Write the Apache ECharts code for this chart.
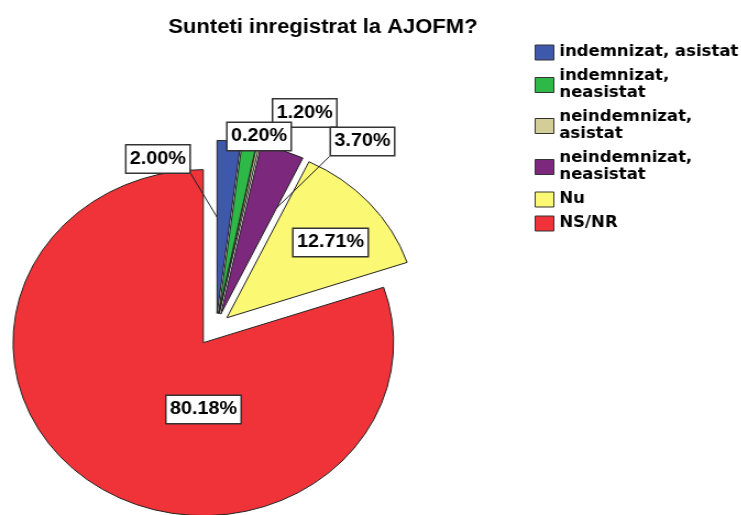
<!DOCTYPE html>
<html>
<head>
<meta charset="utf-8">
<script src="https://cdn.jsdelivr.net/npm/echarts@6/dist/echarts.min.js"></script>
<style>
html, body { margin: 0; padding: 0; background: #fff; overflow: hidden; }
/* the original picture is stretched sideways, so the whole chart is too */
#main { width: 674px; height: 515px; transform: scaleX(1.1); transform-origin: 0 0; }
</style>
</head>
<body>
<div id="main"></div>
<script>
var categories = ['indemnizat, asistat', 'indemnizat, neasistat', 'neindemnizat, asistat',
                  'neindemnizat, neasistat', 'Nu', 'NS/NR'];
var percents = [2.00, 1.20, 0.20, 3.70, 12.71, 80.18];
var colors = ['#3E58AC', '#2EB848', '#D3CE97', '#7C287D', '#FBF873', '#EF3338'];

// how far each slice is pulled out of the pie
var explode = [13, 13, 13, 13, 13, 20];
// centre of each percentage box
var labelPos = [[143.6, 159], [277, 113], [235.5, 136.5], [329.5, 141.5], [300.5, 242.5], [185, 409.5]];

var pieCenter = [196.5, 326.4];
var pieRadius = 173;
var nOutside = 4;   // the first four slices get their box outside, with a leader line

var total = percents.reduce(function (a, b) { return a + b; }, 0);

// where every slice ends up (same maths the pie uses: start at 12 o'clock, clockwise)
var slices = [];
(function () {
    var before = 0;
    for (var k = 0; k < percents.length; k++) {
        var a0 = before / total * 2 * Math.PI;
        var a1 = (before + percents[k]) / total * 2 * Math.PI;
        var mid = (a0 + a1) / 2;
        slices.push({
            a0: a0, a1: a1, mid: mid,
            cx: pieCenter[0] + explode[k] * Math.sin(mid),
            cy: pieCenter[1] - explode[k] * Math.cos(mid)
        });
        before += percents[k];
    }
})();

function insideSmallSlice(x, y) {
    for (var k = 0; k < nOutside; k++) {
        var s = slices[k];
        var dx = x - s.cx, dy = y - s.cy;
        if (dx * dx + dy * dy > pieRadius * pieRadius) continue;
        var ang = Math.atan2(dx, -dy);
        if (ang < 0) ang += 2 * Math.PI;
        if (ang >= s.a0 && ang <= s.a1) return true;
    }
    return false;
}

// leader line: from the nearest box corner towards the middle of the slice,
// stopping where it reaches the small slices
function leader(k, w, h) {
    var s = slices[k], p = labelPos[k];
    var ax = s.cx + pieRadius / 2 * Math.sin(s.mid);
    var ay = s.cy - pieRadius / 2 * Math.cos(s.mid);
    var bx = p[0], by = p[1], best = Infinity;
    [-1, 1].forEach(function (sx) {
        [-1, 1].forEach(function (sy) {
            var x = p[0] + sx * w / 2, y = p[1] + sy * h / 2;
            var d = (x - ax) * (x - ax) + (y - ay) * (y - ay);
            if (d < best) { best = d; bx = x; by = y; }
        });
    });
    var t1 = 1;
    for (var t = 0; t <= 1; t += 0.004) {
        if (insideSmallSlice(bx + (ax - bx) * t, by + (ay - by) * t)) { t1 = t; break; }
    }
    var p1 = [bx + (ax - bx) * t1, by + (ay - by) * t1];
    return [[bx, by], [bx, by], p1];
}

function buildData(k) {
    return percents.map(function (v, i) {
        if (i !== k) {
            return {
                name: categories[i], value: v,
                itemStyle: { color: 'rgba(0,0,0,0)', borderWidth: 0 },
                label: { show: false }, labelLine: { show: false }
            };
        }
        return {
            name: categories[i], value: v,
            itemStyle: { color: colors[i] },
            labelLine: { show: i < nOutside }
        };
    });
}

// one pie per slice, each moved out along the middle of its own slice
function pieSeries(k) {
    return {
        type: 'pie',
        z: k < nOutside ? 3 : 2,
        center: [slices[k].cx, slices[k].cy],
        radius: pieRadius,
        startAngle: 90,
        clockwise: true,
        silent: true,
        avoidLabelOverlap: false,
        itemStyle: { borderColor: '#222', borderWidth: 1 },
        label: {
            show: true,
            position: k < nOutside ? 'outside' : 'inside',
            formatter: function (p) { return p.value.toFixed(2) + '%'; },
            backgroundColor: '#fff',
            borderColor: '#333',
            borderWidth: 1.5,
            padding: [4, 3, 3, 3],
            lineHeight: 20,
            fontFamily: 'Liberation Sans',
            fontWeight: 'bold',
            fontSize: 18,
            color: '#000'
        },
        labelLine: { length: 5, length2: 0, lineStyle: { color: '#222', width: 1 } },
        labelLayout: function (params) {
            var i = params.dataIndex;
            var p = labelPos[i];
            var out = { x: p[0], y: p[1], align: 'center', verticalAlign: 'middle' };
            if (i < nOutside) {
                out.labelLinePoints = leader(i, params.labelRect.width, params.labelRect.height);
            }
            return out;
        },
        data: buildData(k)
    };
}

var chart = echarts.init(document.getElementById('main'));
chart.setOption({
    animation: false,
    title: {
        text: 'Sunteti inregistrat la AJOFM?',
        left: 148,
        top: 12,
        textStyle: { fontFamily: 'Liberation Sans', fontWeight: 'bold', fontSize: 20, color: '#000' }
    },
    legend: {
        orient: 'vertical',
        left: 481,
        top: 39,
        icon: 'rect',
        itemWidth: 17,
        itemHeight: 15,
        itemGap: 7,
        selectedMode: false,
        textStyle: {
            fontFamily: 'DejaVu Sans', fontWeight: 'bold', fontSize: 15, color: '#000',
            width: 170, overflow: 'break', lineHeight: 17
        },
        data: categories.map(function (c, i) {
            return { name: c, itemStyle: { color: colors[i], borderColor: '#333', borderWidth: 1 } };
        })
    },
    series: categories.map(function (c, k) { return pieSeries(k); })
});
</script>
</body>
</html>
